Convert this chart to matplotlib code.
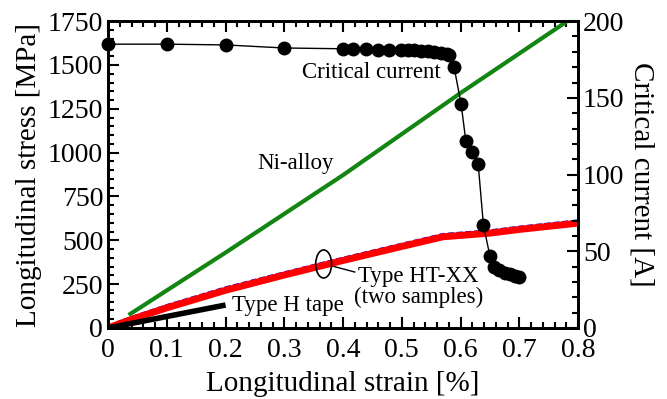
import numpy as np
import matplotlib
matplotlib.use("Agg")
import matplotlib.pyplot as plt
from matplotlib.patches import Ellipse
from matplotlib.ticker import MultipleLocator

plt.rcParams['font.family'] = ['Liberation Serif', 'DejaVu Serif']

# critical current vs strain (right axis)
ic_strain = [0.0, 0.1, 0.2, 0.3, 0.4, 0.417, 0.439, 0.459, 0.479, 0.499, 0.51, 0.521,
             0.533, 0.544, 0.555, 0.567, 0.577, 0.581, 0.589, 0.601, 0.609, 0.619,
             0.63, 0.639, 0.65, 0.657, 0.665, 0.675, 0.685, 0.693, 0.70]
ic_value = [185, 185, 184.5, 182.5, 182, 182, 182, 181.5, 181.5, 181.5, 181.3, 181,
            180.7, 180.3, 180, 179.3, 178.7, 178, 170, 146, 122, 115,
            107, 67, 47, 40, 38, 36, 35, 34, 33]

# stress-strain curves (left axis)
ni_strain = [0.035, 0.2, 0.4, 0.6, 0.78]
ni_stress = [74, 430, 872, 1340, 1746]

ht_strain = [0.0, 0.02, 0.05, 0.1, 0.2, 0.3, 0.4, 0.5, 0.57, 0.65, 0.7, 0.8]
ht_stress1 = [0, 25, 60, 115, 215, 302, 385, 465, 520, 541, 562, 598]
ht_stress2 = [0, 40, 76, 132, 233, 319, 402, 482, 537, 558, 579, 615]

h_strain = [0.0, 0.2]
h_stress = [0, 131]

x_ticks = [0, 0.1, 0.2, 0.3, 0.4, 0.5, 0.6, 0.7, 0.8]
x_ticklabels = ['0', '0.1', '0.2', '0.3', '0.4', '0.5', '0.6', '0.7', '0.8']

fig = plt.figure(figsize=(6.67, 3.99), dpi=100)
ax = fig.add_axes([0.162, 0.178, 0.7046, 0.769])
ax2 = ax.twinx()

ax.plot(ni_strain, ni_stress, color='#128512', lw=3, solid_capstyle='butt', zorder=2)
ax.plot(ht_strain, ht_stress2, color='blue', lw=1.2, ls='--', zorder=2)
ax.plot(ht_strain, ht_stress1, color='red', lw=5, zorder=3)
ax.plot(h_strain, h_stress, color='black', lw=4, solid_capstyle='butt', zorder=3)

ax2.plot(ic_strain, ic_value, color='black', lw=1, marker='o', ms=9, clip_on=False)

ax.set_xlim(0, 0.8)
ax.set_ylim(0, 1750)
ax2.set_ylim(0, 200)

ax.set_xticks(x_ticks)
ax.set_xticklabels(x_ticklabels)
ax.xaxis.set_minor_locator(MultipleLocator(0.02))
ax.yaxis.set_major_locator(MultipleLocator(250))
ax.yaxis.set_minor_locator(MultipleLocator(50))
ax2.yaxis.set_major_locator(MultipleLocator(50))
ax2.yaxis.set_minor_locator(MultipleLocator(10))

ax.tick_params(which='both', direction='in', top=True, right=False, labelsize=20, width=1.5)
ax.tick_params(axis='x', pad=7)
ax.tick_params(which='major', length=8)
ax.tick_params(which='minor', length=4)
ax2.tick_params(which='both', direction='in', labelsize=20, width=1.5)
ax2.tick_params(which='major', length=8)
ax2.tick_params(which='minor', length=4)
for a in (ax, ax2):
    for s in a.spines.values():
        s.set_linewidth(2)

ax.set_xlabel('Longitudinal strain [%]', fontsize=21, labelpad=6)
ax.set_ylabel('Longitudinal stress [MPa]', fontsize=21, labelpad=4)
ax2.set_ylabel('Critical current [A]', fontsize=21, rotation=-90, labelpad=22)

ax.text(0.448, 1459, 'Critical current', fontsize=16.5, ha='center', va='center')
ax.text(0.32, 940, 'Ni-alloy', fontsize=16.5, ha='center', va='center')
ax.text(0.211, 131, 'Type H tape', fontsize=16.5, ha='left', va='center')
ax.text(0.528, 236, 'Type HT-XX\n(two samples)', fontsize=16.5, ha='center', va='center',
        linespacing=1.0)
ax.add_patch(Ellipse((0.367, 365), 0.027, 160, fill=False, lw=1.2, zorder=4))
ax.plot([0.382, 0.42], [353, 319], color='black', lw=1)

fig.savefig('out.png', dpi=100)
